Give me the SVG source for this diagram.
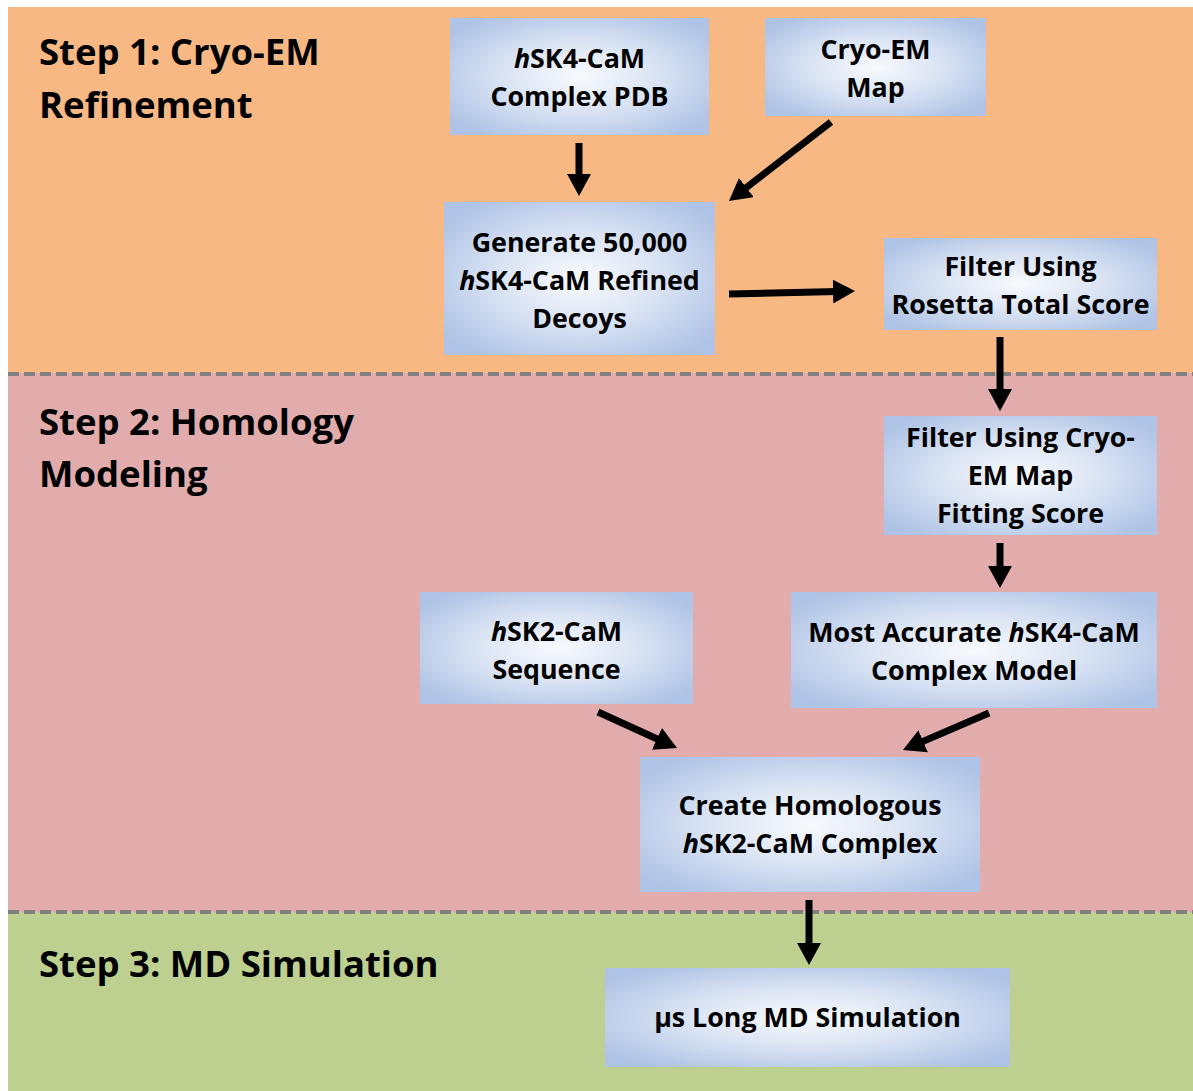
<svg xmlns="http://www.w3.org/2000/svg" width="1193" height="1091" viewBox="0 0 1193 1091">
<style>
.step{font-family:"Open Sans","Liberation Sans",sans-serif;font-weight:bold;font-size:36.5px;fill:#000}
.bt{font-family:"Open Sans","Liberation Sans",sans-serif;font-weight:bold;font-size:26.8px;fill:#000;text-anchor:middle}
.box{fill:url(#bg)}
.sep{stroke:#808080;stroke-width:4;stroke-dasharray:11 5;fill:none}
.arr{stroke:#000;stroke-width:7;fill:none;marker-end:url(#ah)}
.i{font-style:italic}
</style>
<defs>
<radialGradient id="bg" cx="0.5" cy="0.5" r="0.62">
<stop offset="0" stop-color="#F8FAFD"/>
<stop offset="0.45" stop-color="#DCE5F4"/>
<stop offset="1" stop-color="#AFC3E6"/>
</radialGradient>
<marker id="ah" markerUnits="userSpaceOnUse" markerWidth="24" markerHeight="24" viewBox="0 0 24 24" refX="4" refY="12" orient="auto">
<path d="M0,0 L22,12 L0,24 z" fill="#000"/>
</marker>
</defs>
<rect width="1193" height="1091" fill="#fff"/>
<g id="panels">
<rect x="8" y="7" width="1185" height="366" fill="#F8B884"/>
<rect x="8" y="373" width="1185" height="539" fill="#E1ACAB"/>
<rect x="8" y="912" width="1185" height="179" fill="#BDD08F"/>
<line class="sep" x1="8" y1="374" x2="1193" y2="374"/>
<line class="sep" x1="8" y1="912" x2="1193" y2="912"/>
</g>
<g id="labels">
<text class="step" x="39" y="65">Step 1: Cryo-EM</text>
<text class="step" x="39" y="118">Refinement</text>
<text class="step" x="39" y="435">Step 2: Homology</text>
<text class="step" x="39" y="487">Modeling</text>
<text class="step" x="39" y="977">Step 3: MD Simulation</text>
</g>
<g id="connectors">
<line class="arr" x1="579" y1="143" x2="579" y2="178"/>
<line class="arr" x1="831" y1="122" x2="743.2" y2="190"/>
<line class="arr" x1="729" y1="294" x2="837" y2="291.4"/>
<line class="arr" x1="1000" y1="337" x2="1000" y2="393"/>
<line class="arr" x1="1000" y1="543" x2="1000" y2="570"/>
<line class="arr" x1="598" y1="712" x2="660.6" y2="740.5"/>
<line class="arr" x1="989" y1="713" x2="919.5" y2="742.9"/>
<line class="arr" x1="809" y1="900" x2="809" y2="947"/>
</g>
<g id="n-pdb">
<rect class="box" x="450" y="18" width="259" height="117"/>
<text class="bt" x="579.5" y="68"><tspan class="i">h</tspan>SK4-CaM</text>
<text class="bt" x="579.5" y="106">Complex PDB</text>
</g>
<g id="n-map">
<rect class="box" x="765" y="18" width="221" height="98"/>
<text class="bt" x="875.5" y="59">Cryo-EM</text>
<text class="bt" x="875.5" y="97">Map</text>
</g>
<g id="n-generate">
<rect class="box" x="444" y="202" width="271" height="153"/>
<text class="bt" x="579.5" y="252">Generate 50,000</text>
<text class="bt" x="579.5" y="290"><tspan class="i">h</tspan>SK4-CaM Refined</text>
<text class="bt" x="579.5" y="328">Decoys</text>
</g>
<g id="n-rosetta">
<rect class="box" x="884" y="238" width="273" height="92"/>
<text class="bt" x="1020.5" y="276">Filter Using</text>
<text class="bt" x="1020.5" y="314">Rosetta Total Score</text>
</g>
<g id="n-fitting">
<rect class="box" x="884" y="416" width="273" height="119"/>
<text class="bt" x="1020.5" y="447">Filter Using Cryo-</text>
<text class="bt" x="1020.5" y="485">EM Map</text>
<text class="bt" x="1020.5" y="523">Fitting Score</text>
</g>
<g id="n-accurate">
<rect class="box" x="791" y="592" width="366" height="116"/>
<text class="bt" x="974" y="642">Most Accurate <tspan class="i">h</tspan>SK4-CaM</text>
<text class="bt" x="974" y="680">Complex Model</text>
</g>
<g id="n-sequence">
<rect class="box" x="420" y="592" width="273" height="112"/>
<text class="bt" x="556.5" y="641"><tspan class="i">h</tspan>SK2-CaM</text>
<text class="bt" x="556.5" y="679">Sequence</text>
</g>
<g id="n-create">
<rect class="box" x="640" y="757" width="340" height="135"/>
<text class="bt" x="810" y="815">Create Homologous</text>
<text class="bt" x="810" y="853"><tspan class="i">h</tspan>SK2-CaM Complex</text>
</g>
<g id="n-md">
<rect class="box" x="605" y="968" width="405" height="99"/>
<text class="bt" x="807.5" y="1027">µs Long MD Simulation</text>
</g>
</svg>
